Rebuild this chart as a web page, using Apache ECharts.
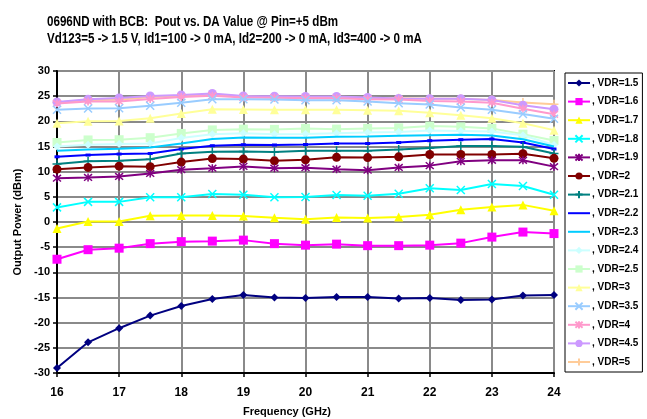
<!DOCTYPE html>
<html>
<head>
<meta charset="utf-8">
<script src="https://cdn.jsdelivr.net/npm/echarts@6/dist/echarts.min.js"></script>
<style>
html,body{margin:0;padding:0;background:#fff;}
#chart{width:647px;height:419px;}
</style>
</head>
<body>
<div id="chart"></div>
<script>
var freqs = [16,16.5,17,17.5,18,18.5,19,19.5,20,20.5,21,21.5,22,22.5,23,23.5,24];
var seriesNames = [', VDR=1.5',', VDR=1.6',', VDR=1.7',', VDR=1.8',', VDR=1.9',', VDR=2',', VDR=2.1',', VDR=2.2',', VDR=2.3',', VDR=2.4',', VDR=2.5',', VDR=3',', VDR=3.5',', VDR=4',', VDR=4.5',', VDR=5'];
var vdr15 = [-29.0,-23.9,-21.1,-18.6,-16.7,-15.3,-14.5,-15.0,-15.1,-14.9,-14.9,-15.2,-15.1,-15.5,-15.4,-14.6,-14.5];
var vdr16 = [-7.4,-5.5,-5.2,-4.3,-3.9,-3.8,-3.6,-4.3,-4.6,-4.4,-4.7,-4.7,-4.6,-4.2,-3.0,-2.0,-2.3];
var vdr17 = [-1.3,0.1,0.1,1.25,1.3,1.3,1.2,0.85,0.55,0.9,0.8,1.0,1.45,2.45,3.0,3.4,2.25];
var vdr18 = [2.9,4.0,4.0,4.9,4.9,5.55,5.4,4.9,4.95,5.35,5.2,5.6,6.7,6.35,7.55,7.15,5.4];
var vdr19 = [8.7,8.85,9.05,9.65,10.4,10.7,11.05,10.7,10.8,10.5,10.3,10.85,11.2,12.05,12.25,12.25,11.0];
var vdr20 = [10.5,10.85,11.1,11.0,11.9,12.6,12.5,12.15,12.35,12.85,12.8,12.95,13.4,13.4,13.4,13.55,12.65];
var vdr21 = [11.5,12.05,12.15,12.45,13.6,13.95,14.0,13.9,14.15,14.15,14.15,14.4,14.7,15.1,15.1,14.95,13.6];
var vdr22 = [12.95,13.3,13.5,13.6,14.5,15.15,15.35,15.3,15.4,15.6,15.6,15.8,16.15,16.35,16.5,15.8,14.5];
var vdr23 = [14.15,14.4,14.55,14.8,15.6,16.5,16.8,16.75,16.75,16.95,17.0,17.15,17.25,17.35,17.2,16.45,15.0];
var vdr24 = [15.0,15.35,15.5,15.6,16.7,17.45,17.65,17.45,17.5,17.65,17.8,17.9,18.2,18.1,18.0,17.25,15.3];
var vdr25 = [15.8,16.3,16.35,16.75,17.6,18.3,18.45,18.4,18.6,18.45,18.6,18.7,19.05,18.9,18.6,17.45,16.2];
var vdr30 = [19.6,20.0,20.05,20.6,21.55,22.4,22.35,22.3,22.3,22.3,22.2,22.1,21.7,21.2,20.6,19.6,18.25];
var vdr35 = [22.3,22.55,22.6,23.1,23.7,24.4,24.4,24.35,24.2,24.2,23.95,23.6,23.35,22.75,22.3,21.45,20.5];
var vdr40 = [23.55,23.95,23.95,24.45,24.85,25.1,24.75,24.7,24.6,24.6,24.4,24.35,24.05,23.95,23.7,22.5,21.4];
var vdr45 = [23.85,24.4,24.65,25.05,25.25,25.55,25.05,25.0,24.95,24.95,24.75,24.55,24.5,24.5,24.25,23.2,22.4];
var vdr50 = [23.75,24.25,24.3,24.85,25.05,25.25,25.0,24.75,24.85,24.85,24.6,24.6,24.5,24.5,24.25,23.75,23.4];
var yTicks = [-30,-25,-20,-15,-10,-5,0,5,10,15,20,25,30];
var xTicks = [16,17,18,19,20,21,22,23,24];
var titleLine1 = '0696ND with BCB:  Pout vs. DA Value @ Pin=+5 dBm';
var titleLine2 = 'Vd123=5 -> 1.5 V, Id1=100 -> 0 mA, Id2=200 -> 0 mA, Id3=400 -> 0 mA';

var allData = [vdr15,vdr16,vdr17,vdr18,vdr19,vdr20,vdr21,vdr22,vdr23,vdr24,vdr25,vdr30,vdr35,vdr40,vdr45,vdr50];
var colors = ['#000080','#FF00FF','#FFFF00','#00FFFF','#800080','#800000','#008080','#0000FF','#00CCFF','#CCFFFF','#CCFFCC','#FFFF99','#99CCFF','#FF99CC','#CC99FF','#FFCC99'];
var X = 'path://M0,0L10,10M10,0L0,10';
var AST = 'path://M0,0L10,10M10,0L0,10M5,-1L5,11';
var PLUS = 'path://M5,0L5,10M0,5L10,5';
var symbols = ['diamond','rect','triangle',X,AST,'circle',PLUS,'rect','circle','diamond','rect','triangle',X,AST,'circle',PLUS];
var sizes = [8,9,9,8,8,9,9,[5,3],0,8,9,9,8,8,9,9];
var stroked = [false,false,false,true,true,false,true,false,false,false,false,false,true,true,false,true];
var hideLegendMark = [false,false,false,false,false,false,false,true,true,false,false,false,false,false,false,false];

var series = allData.map(function(d, i){
  return {
    name: seriesNames[i],
    type: 'line',
    data: freqs.map(function(f, j){ return [f, d[j]]; }),
    symbol: symbols[i],
    symbolSize: sizes[i],
    showSymbol: sizes[i] !== 0,
    z: 20 - i,
    lineStyle: {color: colors[i], width: 2},
    itemStyle: stroked[i] ? {color: colors[i], borderColor: colors[i], borderWidth: 1.5} : {color: colors[i], borderWidth: 0},
    emphasis: {disabled: true},
    animation: false
  };
});

var legendData = seriesNames.map(function(n, i){
  var o = {name: n};
  if (hideLegendMark[i]) { o.itemStyle = {opacity: 0}; }
  return o;
});

var chart = echarts.init(document.getElementById('chart'));
chart.setOption({
  animation: false,
  backgroundColor: '#fff',
  textStyle: {fontFamily: 'Liberation Sans', fontWeight: 'bold', color: '#000'},
  grid: {left: 57, right: 93, top: 71, bottom: 46, show: true, borderColor: '#000', borderWidth: 2, backgroundColor: 'transparent'},
  legend: {
    orient: 'vertical', left: 565, top: 73, width: 76, height: 296,
    padding: [5, 4, 5, 2],
    itemWidth: 22, itemHeight: 9, itemGap: 8.6,
    borderColor: '#000', borderWidth: 1, backgroundColor: '#fff',
    textStyle: {fontFamily: 'Liberation Sans', fontSize: 10, lineHeight: 10, fontWeight: 'bold', color: '#000', padding: [0,0,0,-3]},
    data: legendData
  },
  xAxis: {
    type: 'value', min: 16, max: 24, interval: 1,
    axisLine: {show: true, onZero: false, lineStyle: {color: '#000', width: 2}},
    axisTick: {show: true, length: 4, lineStyle: {color: '#000', width: 1.5}},
    axisLabel: {fontFamily: 'Liberation Sans', fontSize: 12, fontWeight: 'bold', color: '#000', margin: 14,
      formatter: function(v){ return xTicks.indexOf(v) >= 0 ? String(v) : ''; }},
    splitLine: {show: true, lineStyle: {color: '#8a8a8a', width: 2}}
  },
  yAxis: {
    type: 'value', min: -30, max: 30, interval: 5,
    name: 'Output Power (dBm)', nameLocation: 'middle', nameGap: 34, nameRotate: 90,
    nameTextStyle: {fontFamily: 'Liberation Sans', fontSize: 11, fontWeight: 'bold', color: '#000'},
    axisLine: {show: true, onZero: false, lineStyle: {color: '#000', width: 2}},
    axisTick: {show: true, length: 4, lineStyle: {color: '#000', width: 1.5}},
    axisLabel: {fontFamily: 'Liberation Sans', fontSize: 11, fontWeight: 'bold', color: '#000', margin: 7,
      formatter: function(v){ return yTicks.indexOf(v) >= 0 ? String(v) : ''; }},
    splitLine: {show: true, lineStyle: {color: '#8a8a8a', width: 2}}
  },
  graphic: [{
    type: 'text', x: 47, y: 14, scaleX: 0.8,
    style: {text: titleLine1, fontFamily: 'Liberation Sans', fontSize: 14.5, fontWeight: 'bold', fill: '#000'}
  }, {
    type: 'text', x: 47, y: 31, scaleX: 0.8,
    style: {text: titleLine2, fontFamily: 'Liberation Sans', fontSize: 14.5, fontWeight: 'bold', fill: '#000'}
  }, {
    type: 'text', left: 243, top: 406,
    style: {text: 'Frequency (GHz)', fontFamily: 'Liberation Sans', fontSize: 11, fontWeight: 'bold', fill: '#000', textAlign: 'center'}
  }],
  series: series
});
</script>
</body>
</html>
